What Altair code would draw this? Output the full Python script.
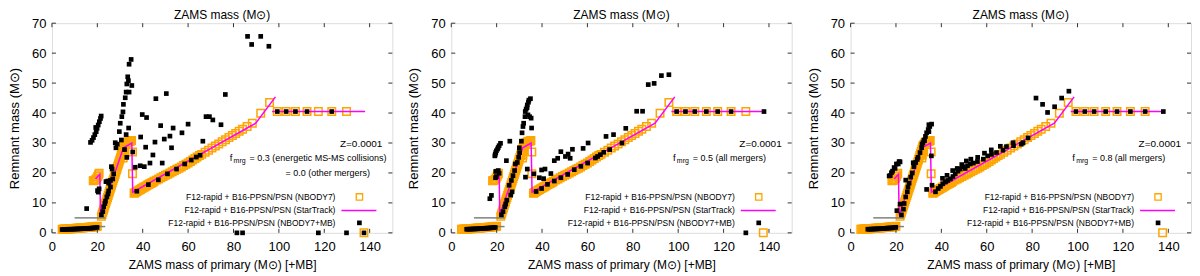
import altair as alt
import pandas as pd

FONT = "Liberation Sans"
W, H = 341, 210

x_ticks = [0, 20, 40, 60, 80, 100, 120, 140]
y_ticks = [0, 10, 20, 30, 40, 50, 60, 70]

# ---------------- NBODY7 (open orange squares), same in all panels ----------------
nb7_x = [4.5, 5.0, 5.5, 6.0, 6.5, 7.0, 7.5, 8.0, 8.5, 9.0, 9.5, 10.0, 10.5, 11.0, 11.5, 12.0,
         12.5, 13.0, 13.5, 14.0, 14.5, 15.0, 15.5, 16.0, 16.5, 17.0, 17.5, 18.0, 18.5, 19.0, 19.5, 20.0,
         18.2, 18.6, 19.0, 19.4, 19.8, 20.2, 20.5, 20.8,
         21.8, 22.1, 22.4, 22.7, 23.0, 23.3, 23.6, 23.9, 24.2, 24.5, 24.8, 25.1, 25.4, 25.7, 26.0,
         26.3, 26.6, 26.9, 27.2, 27.5, 27.8, 28.1, 28.4, 28.7, 29.0, 29.3, 29.6, 29.9, 30.2, 30.5,
         30.8, 31.1, 31.4,
         31.7, 32.0, 32.4, 32.8, 33.2, 33.6, 34.0, 34.4, 34.8, 35.1,
         32.0, 31.6, 31.4, 35.5, 35.5,
         36.2, 36.6, 37.0, 37.5, 38.0, 38.5, 39.0, 39.5, 40.0, 40.5, 41.0, 41.5, 42.0, 42.5, 43.0,
         43.5, 44.0, 44.5, 45.0, 46.0, 47.0, 48.0, 49.0, 50.0, 51.0, 52.0, 53.0, 54.0, 55.0, 56.0,
         57.0, 58.0, 59.0, 60.0, 61.0, 62.0, 63.0, 64.0, 65.0, 66.0, 67.5, 69.0, 70.5, 72.0, 73.5,
         75.0, 76.5, 78.0, 79.5, 81.0, 82.5, 84.0, 86.0, 88.3, 92.0, 95.9,
         99.3, 103.2, 107.3, 112.4, 117.4, 123.3, 129.8, 137.5]
nb7_y = [1.2, 1.2, 1.25, 1.25, 1.3, 1.3, 1.35, 1.35, 1.4, 1.4, 1.45, 1.45, 1.5, 1.5, 1.55, 1.6,
         1.6, 1.65, 1.7, 1.7, 1.75, 1.8, 1.8, 1.85, 1.9, 1.9, 1.95, 2.0, 2.0, 2.05, 2.1, 2.2,
         17.4, 17.5, 17.6, 17.8, 18.2, 18.8, 19.4, 19.9,
         5.5, 6.2, 6.9, 7.6, 8.3, 9.0, 9.7, 10.4, 11.1, 11.8, 12.5, 13.2, 13.9, 14.6, 15.3,
         16.0, 16.7, 17.4, 18.1, 18.8, 19.5, 20.2, 20.9, 21.6, 22.3, 23.0, 23.7, 24.4, 25.1, 25.8,
         26.5, 27.2, 27.9,
         28.6, 29.2, 29.7, 30.0, 30.2, 30.4, 30.5, 30.6, 30.7, 30.8,
         27.3, 26.0, 25.0, 27.0, 19.7,
         13.2, 13.4, 13.6, 13.8, 14.1, 14.3, 14.5, 14.8, 15.0, 15.2, 15.4, 15.6, 15.9, 16.1, 16.3,
         16.5, 16.7, 16.9, 17.2, 17.6, 18.0, 18.4, 18.8, 19.2, 19.6, 20.0, 20.4, 20.8, 21.2, 21.6,
         22.0, 22.5, 22.9, 23.3, 23.8, 24.3, 24.8, 25.3, 25.8, 26.2, 26.9, 27.6, 28.3, 29.0, 29.7,
         30.4, 31.1, 31.8, 32.5, 33.2, 33.9, 34.6, 35.5, 36.6, 39.9, 43.5,
         40.5, 40.5, 40.5, 40.5, 40.5, 40.5, 40.5, 0.0]

# ---------------- StarTrack (magenta line), same in all panels ----------------
st_x = [19.2, 21.1, 21.4, 31.5, 35.2, 35.6, 89.8, 98.5, 97.0, 138.0]
st_y = [18.0, 19.6, 5.9, 28.4, 30.0, 13.6, 36.6, 45.4, 40.5, 40.5]
st_seg = [0, 0, 0, 0, 0, 0, 0, 0, 1, 1]

# grey horizontal segments
gray_x = [10.0, 15.0]
gray_x2 = [23.5, 23.5]
gray_y = [5.0, 2.1]

# ---------------- NBODY7+MB (black squares), per panel ----------------
mb1_x = [4.5, 5.2, 5.9, 6.6, 7.3, 8.0, 8.7, 9.4, 10.1, 10.8, 11.5, 12.2, 12.9, 13.6, 14.3, 15.0,
         15.7, 16.4, 17.1, 17.8, 18.5, 19.2, 19.9,
         15.3,
         17.0, 17.7, 18.3, 18.9, 19.5, 19.9, 20.4, 20.9, 21.4, 21.7, 19.3,
         20.1, 20.8, 20.4,
         21.8, 22.4, 22.8, 23.3, 23.6, 24.2, 24.7, 25.0, 25.8, 25.0, 23.8, 24.6, 25.8, 26.8, 27.2,
         26.5, 26.2,
         27.9, 28.2, 28.8, 29.7, 30.1, 30.8, 31.3, 31.5, 32.3, 32.7, 34.0, 35.2, 33.0, 33.7, 33.4,
         34.0, 34.9, 32.0, 35.6, 33.0, 33.8, 32.7, 30.6,
         36.7, 38.9, 40.7, 39.1, 39.8, 41.7, 41.3, 43.2, 44.5, 45.4, 45.8, 47.9, 48.6, 49.5, 50.4,
         52.0, 52.7, 53.4, 57.3, 60.0, 66.5, 67.9, 69.4, 70.9, 74.5, 76.4, 86.2, 88.0, 92.0, 95.6,
         37.4, 42.5, 46.9, 50.9, 54.9, 58.5, 61.4, 63.6, 65.3,
         99.3, 103.2, 107.3, 112.4, 123.3,
         81.5, 84.0, 117.4, 129.8, 137.5]
mb1_y = [1.1, 1.1, 1.15, 1.15, 1.2, 1.2, 1.2, 1.25, 1.25, 1.3, 1.3, 1.35, 1.35, 1.4, 1.4, 1.45,
         1.5, 1.5, 1.55, 1.6, 1.65, 1.7, 1.8,
         8.1,
         30.2, 30.9, 31.8, 32.8, 33.8, 34.9, 36.0, 37.1, 38.2, 39.0, 35.2,
         14.1, 14.7, 13.6,
         6.0, 7.1, 8.7, 9.8, 10.6, 12.0, 13.0, 14.0, 15.3, 16.6, 17.1, 17.3, 17.5, 18.0, 19.7,
         21.3, 22.1,
         30.1, 28.4, 29.6, 33.8, 36.6, 38.8, 40.4, 42.9, 45.1, 47.0, 47.0, 49.2, 49.7, 50.8, 52.1,
         56.3, 57.9, 27.8, 27.0, 25.2, 35.0, 32.8, 31.0,
         21.9, 22.4, 22.1, 32.0, 39.5, 38.5, 28.6, 23.3, 26.0, 30.3, 44.8, 35.8, 23.3, 31.3, 46.5,
         32.3, 28.4, 35.0, 33.4, 36.3, 30.6, 38.8, 38.8, 37.7, 36.1, 46.2, 65.6, 62.9, 65.6, 62.3,
         13.9, 16.1, 17.7, 19.7, 21.3, 23.0, 24.3, 25.3, 25.9,
         40.5, 40.5, 40.5, 40.5, 40.5,
         0.0, 0.0, 0.0, 0.0, 0.0]

mb2_x = [6.8, 7.5, 8.2, 8.9, 9.6, 10.3, 11.0, 11.7, 12.4, 13.1, 13.8, 14.5, 15.2, 15.9, 16.6, 17.3,
         18.0, 18.7, 19.4,
         17.0, 17.7,
         19.2, 19.6, 19.9, 20.4, 20.7, 21.1, 21.7, 19.4,
         19.5, 19.9, 20.7, 21.1, 19.6,
         22.1, 22.8, 23.6, 24.0, 24.5, 26.2, 26.8, 25.5, 26.5, 27.2, 27.9, 28.2, 29.1, 29.7, 30.1,
         30.0, 30.9, 24.3, 25.8,
         31.2, 31.6, 31.9, 32.5, 32.6, 33.0, 33.5, 34.2, 34.9, 33.8, 34.5, 35.2, 35.4, 32.7, 33.5,
         34.0, 33.4,
         36.4, 37.4, 39.8, 41.3, 43.9, 40.7, 38.8, 45.4, 46.9, 48.3, 50.3, 52.4, 53.4, 58.1, 60.3,
         51.5,
         39.8, 42.4, 45.4, 48.3, 51.3, 54.2, 57.1, 60.1, 63.5, 64.5, 65.7, 67.2, 69.8, 75.2,
         68.2, 71.5, 76.9, 81.7, 84.3, 86.8, 89.4, 92.6, 95.9,
         99.3, 103.2, 107.3, 112.4, 117.4, 123.3, 137.8,
         129.8]
mb2_y = [1.2, 1.2, 1.25, 1.25, 1.3, 1.3, 1.35, 1.35, 1.4, 1.45, 1.45, 1.5, 1.55, 1.55, 1.6, 1.65,
         1.7, 1.75, 1.8,
         11.4, 12.5,
         25.7, 26.8, 27.4, 28.0, 28.5, 29.1, 29.9, 26.2,
         18.4, 18.8, 20.8, 19.9, 20.5,
         6.0, 7.1, 8.7, 9.6, 10.9, 12.6, 13.7, 15.9, 17.5, 19.1, 20.8, 23.0, 23.5, 25.2, 26.8,
         28.4, 30.6, 24.1, 30.6,
         33.4, 35.5, 36.6, 38.8, 40.5, 41.3, 42.7, 44.3, 44.8, 39.4, 38.8, 38.3, 35.0, 18.6, 21.3,
         43.6, 41.8,
         19.7, 13.8, 21.0, 21.3, 19.8, 18.1, 18.4, 24.1, 24.9, 27.1, 25.5, 24.9, 27.9, 28.2, 30.0,
         26.3,
         14.8, 16.2, 17.3, 18.4, 19.5, 21.1, 22.2, 23.3, 25.0, 25.5, 26.1, 26.9, 27.8, 30.0,
         32.2, 32.8, 34.9, 40.6, 40.6, 49.5, 49.9, 52.5, 52.8,
         40.5, 40.5, 40.5, 40.5, 40.5, 40.5, 40.5,
         0.0]

mb3_x = [7.6, 8.3, 9.0, 9.7, 10.4, 11.1, 11.8, 12.5, 13.2, 13.9, 14.6, 15.3, 16.0, 16.7, 17.4, 18.1,
         18.8, 19.5, 19.9,
         17.0, 17.5, 18.0, 18.5, 19.2, 19.6, 20.2, 21.0, 21.4, 21.8,
         20.4, 21.8, 22.4, 23.3, 23.6, 24.3, 25.0, 25.3, 25.8, 26.5, 27.2, 27.9, 28.7, 29.7, 30.6,
         31.3, 31.9, 32.6, 24.3, 27.6, 29.4,
         33.5, 34.2, 34.9, 35.7, 34.5, 33.0, 32.3, 31.5, 34.5,
         33.5, 35.9, 35.6,
         37.4, 38.6, 39.6, 40.6, 41.8, 42.8, 44.0, 45.1, 46.1, 47.3, 48.3, 49.5, 50.5, 51.5, 52.7,
         54.1, 55.9, 58.5, 60.4, 62.1, 64.3, 67.2, 68.7, 71.6, 76.0, 78.2,
         40.5, 42.5, 45.0, 47.0, 49.0, 51.0, 53.0, 56.0, 59.0, 62.0, 66.0, 71.8, 75.2,
         81.7, 84.6, 86.8, 89.9, 93.0, 96.2,
         99.3, 103.2, 107.3, 112.4, 117.4, 123.3, 129.8, 137.8]
mb3_y = [1.2, 1.2, 1.25, 1.25, 1.3, 1.3, 1.35, 1.35, 1.4, 1.45, 1.45, 1.5, 1.55, 1.6, 1.6, 1.65,
         1.7, 1.8, 1.85,
         19.0, 19.1, 20.1, 20.6, 21.8, 21.5, 23.0, 23.0, 23.8, 23.7,
         7.4, 9.6, 6.0, 7.9, 9.8, 12.0, 13.7, 15.3, 16.6, 18.6, 20.0, 22.1, 23.5, 25.2, 26.8,
         28.4, 30.1, 30.8, 17.6, 23.4, 24.5,
         33.4, 34.5, 35.5, 36.3, 36.1, 32.2, 31.0, 29.6, 33.8,
         14.5, 15.9, 25.7,
         13.7, 14.8, 15.5, 16.4, 17.0, 17.5, 18.0, 18.8, 19.7, 20.6, 21.3, 22.1, 21.5, 22.4, 23.0,
         23.3, 23.8, 24.6, 25.7, 26.2, 26.8, 27.6, 28.8, 30.1, 30.1, 31.7,
         18.2, 19.2, 20.8, 21.5, 22.8, 24.0, 24.6, 25.2, 26.6, 27.7, 28.9, 29.1, 29.6,
         45.0, 42.9, 40.2, 42.1, 45.0, 47.3,
         40.5, 40.5, 40.5, 40.5, 40.5, 40.5, 40.5, 40.5]

legend_labels = ["F12-rapid + B16-PPSN/PSN (NBODY7)",
                 "F12-rapid + B16-PPSN/PSN (StarTrack)",
                 "F12-rapid + B16-PPSN/PSN (NBODY7+MB)"]
metal_label = "Z=0.0001"
top_title = "ZAMS mass (M⊙)"
fmrg_values = ["= 0.3 (energetic MS-MS collisions)", "= 0.5 (all mergers)", "= 0.8 (all mergers)"]
fmrg_extra = ["= 0.0 (other mergers)", None, None]

XS = alt.Scale(domain=[0, 150], nice=False, zero=False)
YS = alt.Scale(domain=[0, 70], nice=False, zero=False)
ONE = alt.Data(values=[{"a": 1}])

X_AXIS = alt.Axis(values=x_ticks, ticks=False, domain=False, grid=False, labelFlush=False,
                  labelFontSize=13, labelFont=FONT, labelColor="black", labelPadding=8,
                  title="ZAMS mass of primary (M⊙) [+MB]", titleFont=FONT, titleFontSize=12,
                  titleFontWeight="normal", titleColor="black", titlePadding=6)
Y_AXIS = alt.Axis(values=y_ticks, ticks=False, domain=False, grid=False, labelFlush=False,
                  labelFontSize=13, labelFont=FONT, labelColor="black", labelPadding=6,
                  title="Remnant mass (M⊙)", titleFont=FONT, titleFontSize=13,
                  titleFontWeight="normal", titleColor="black", titlePadding=10)


def xenc(field="x"):
    return alt.X(f"{field}:Q", scale=XS, axis=X_AXIS)


def yenc(field="y"):
    return alt.Y(f"{field}:Q", scale=YS, axis=Y_AXIS)


def txt(text, x, y, size=9, align="left", baseline="middle"):
    return alt.Chart(ONE).mark_text(text=text, fontSize=size, align=align, baseline=baseline,
                                    font=FONT, color="black").encode(
        x=alt.value(x), y=alt.value(y))


def panel(mb_x, mb_y, fval, fextra, fx):
    nb7 = pd.DataFrame({"x": nb7_x, "y": nb7_y})
    st = pd.DataFrame({"x": st_x, "y": st_y, "seg": st_seg, "i": list(range(len(st_x)))})
    gr = pd.DataFrame({"x": gray_x, "x2": gray_x2, "y": gray_y})
    mb = pd.DataFrame({"x": mb_x, "y": mb_y})
    xt = pd.DataFrame({"x": x_ticks})
    yt = pd.DataFrame({"y": y_ticks})

    orange = alt.Chart(nb7).mark_point(shape="square", filled=False, color="#FFA500", size=56,
                                       strokeWidth=1.5, opacity=1).encode(x=xenc(), y=yenc())
    gray = alt.Chart(gr).mark_rule(color="#808080", strokeWidth=1.5).encode(
        x=xenc(), x2="x2:Q", y=yenc())
    magenta = alt.Chart(st).mark_line(color="#FF00FF", strokeWidth=1.5).encode(
        x=xenc(), y=yenc(), detail="seg:N", order="i:Q")
    black = alt.Chart(mb).mark_point(shape="square", filled=True, color="black", size=22,
                                     opacity=1).encode(x=xenc(), y=yenc())

    tk = dict(color="#333333", strokeWidth=1)
    tb = alt.Chart(xt).mark_rule(**tk).encode(x=xenc(), y=alt.value(H), y2=alt.value(H - 4))
    tt = alt.Chart(xt).mark_rule(**tk).encode(x=xenc(), y=alt.value(0), y2=alt.value(4))
    tl = alt.Chart(yt).mark_rule(**tk).encode(y=yenc(), x=alt.value(0), x2=alt.value(4))
    tr = alt.Chart(yt).mark_rule(**tk).encode(y=yenc(), x=alt.value(W - 4), x2=alt.value(W))

    layers = [orange, gray, magenta, black, tb, tt, tl, tr]

    # top title
    layers.append(txt(top_title, W / 2, -8, size=12, align="center"))

    # annotation
    layers.append(txt(metal_label, 331, H - 89, size=10, align="right"))
    layers.append(txt("f", fx, H - 75, size=9.5))
    layers.append(txt("mrg", fx + 4, H - 72, size=7))
    layers.append(txt(fval, fx + 20, H - 75, size=9))
    if fextra:
        layers.append(txt(fextra, 234, H - 60, size=9))

    # legend
    rows = [H - 36, H - 22.5, H - 10]
    for lab, ry in zip(legend_labels, rows):
        layers.append(txt(lab, 284, ry, size=8.5, align="right"))
    layers.append(alt.Chart(ONE).mark_point(shape="square", filled=False, color="#FFA500",
                                            size=40, strokeWidth=1.3, opacity=1).encode(
        x=alt.value(308), y=alt.value(rows[0])))
    layers.append(alt.Chart(ONE).mark_rule(color="#FF00FF", strokeWidth=1.5).encode(
        x=alt.value(290), x2=alt.value(325), y=alt.value(rows[1])))
    layers.append(alt.Chart(ONE).mark_point(shape="square", filled=True, color="black",
                                            size=22, opacity=1).encode(
        x=alt.value(308), y=alt.value(rows[2])))

    return alt.layer(*layers).properties(width=W, height=H)


p1 = panel(mb1_x, mb1_y, fmrg_values[0], fmrg_extra[0], 178)
p2 = panel(mb2_x, mb2_y, fmrg_values[1], fmrg_extra[1], 222)
p3 = panel(mb3_x, mb3_y, fmrg_values[2], fmrg_extra[2], 222)

chart = alt.hconcat(p1, p2, p3, spacing=59, bounds="flush").properties(
    padding={"left": 0, "top": 0, "right": 0, "bottom": 0}
).configure_view(stroke="#333333", strokeWidth=1).configure(font=FONT)

chart.save("out.html", embed_options={"renderer": "svg", "actions": False})
